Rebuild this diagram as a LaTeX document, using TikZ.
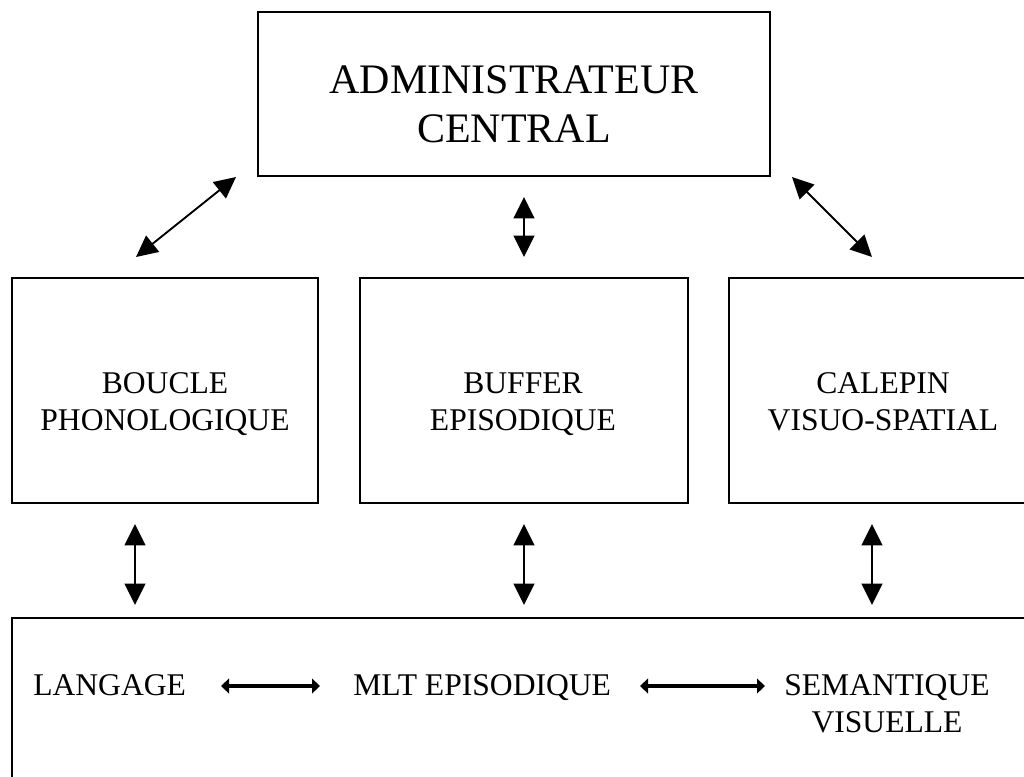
\documentclass[tikz,border=0pt]{standalone}
\usepackage{fontspec}
\setmainfont{Liberation Serif}
\usetikzlibrary{arrows.meta}
\begin{document}
\begin{tikzpicture}[x=0.75pt,y=-0.75pt,
  box/.style={draw=black, line width=1.1pt, inner sep=0pt},
  big/.style={font=\fontsize{31.5pt}{36pt}\selectfont, inner sep=0pt, anchor=base},
  txt/.style={font=\fontsize{23.7pt}{28pt}\selectfont, inner sep=0pt, anchor=base},
  bigarrow/.style={line width=1.4pt, {Triangle[length=16pt,width=15.5pt]}-{Triangle[length=16pt,width=15.5pt]}},
  smallarrow/.style={line width=2.5pt, {Triangle[length=6pt,width=11pt]}-{Triangle[length=6pt,width=11pt]}}]
\useasboundingbox (0,0) rectangle (1024,776);
% boxes
\node[box, minimum width=384pt, minimum height=123pt] (admin) at (514,94) {};
\node[box, minimum width=229.5pt, minimum height=168.75pt] (boucle) at (165,390.5) {};
\node[box, minimum width=246pt, minimum height=168.75pt] (buffer) at (524,390.5) {};
\node[box, minimum width=231pt, minimum height=168.75pt] (calepin) at (883,390.5) {};
\node[box, minimum width=768pt, minimum height=136.5pt] (mlt) at (524,709) {};
% texts
\node[big] (adm1) at (514,93) {ADMINISTRATEUR};
\node[big] (adm2) at (514,142) {CENTRAL};
\node[txt] (bo1) at (165,393) {BOUCLE};
\node[txt] (bo2) at (165,430) {PHONOLOGIQUE};
\node[txt] (bu1) at (523,393) {BUFFER};
\node[txt] (bu2) at (523,430) {EPISODIQUE};
\node[txt] (ca1) at (883,393) {CALEPIN};
\node[txt] (ca2) at (883,430) {VISUO-SPATIAL};
\node[txt, anchor=base west] (lang) at (33,695) {LANGAGE};
\node[txt, anchor=base west] (epi) at (353,695) {MLT EPISODIQUE};
\node[txt] (sem1) at (887,695) {SEMANTIQUE};
\node[txt] (sem2) at (887,732) {VISUELLE};
% arrow end points
\coordinate (a1s) at (236,177);
\coordinate (a1e) at (136,257);
\coordinate (a2s) at (524,197);
\coordinate (a2e) at (524,257);
\coordinate (a3s) at (792,177);
\coordinate (a3e) at (872,257);
\coordinate (b1s) at (135,524);
\coordinate (b1e) at (135,605);
\coordinate (b2s) at (524,524);
\coordinate (b2e) at (524,605);
\coordinate (b3s) at (872,524);
\coordinate (b3e) at (872,605);
\coordinate (h1s) at (221,686);
\coordinate (h1e) at (320,686);
\coordinate (h2s) at (640,686);
\coordinate (h2e) at (765,686);
% arrows
\draw[bigarrow] (a1s) -- (a1e);
\draw[bigarrow] (a2s) -- (a2e);
\draw[bigarrow] (a3s) -- (a3e);
\draw[bigarrow] (b1s) -- (b1e);
\draw[bigarrow] (b2s) -- (b2e);
\draw[bigarrow] (b3s) -- (b3e);
\draw[smallarrow] (h1s) -- (h1e);
\draw[smallarrow] (h2s) -- (h2e);
\end{tikzpicture}
\end{document}
